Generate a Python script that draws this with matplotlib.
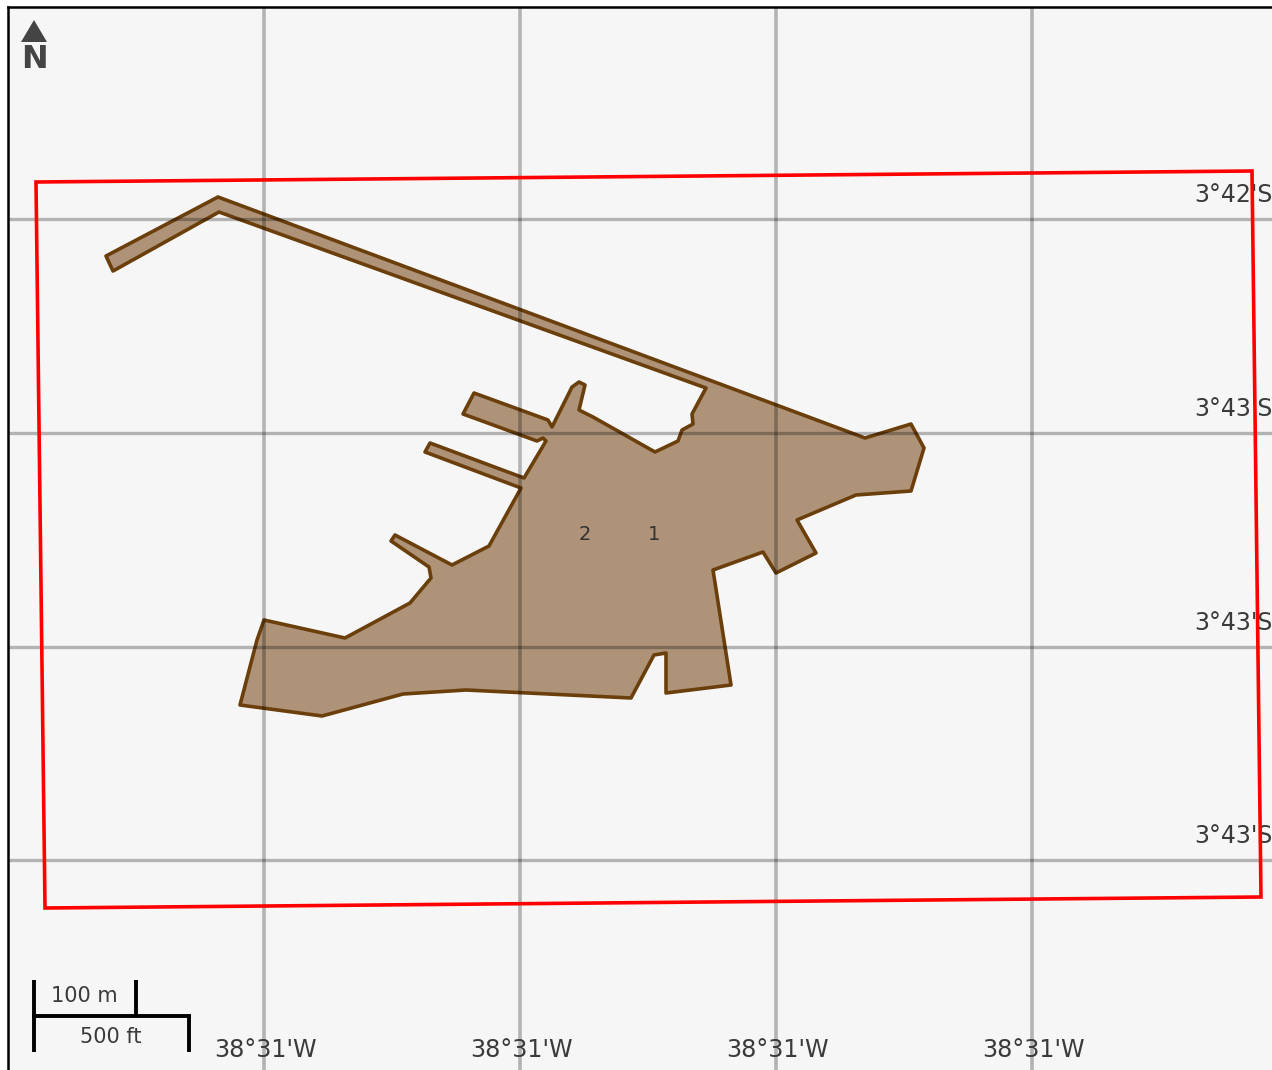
import matplotlib
matplotlib.use('Agg')
import matplotlib.pyplot as plt
from matplotlib.patches import Polygon

# map features, in picture units (x right, y down)
site_x = [106, 218, 865, 911, 924, 911, 856, 797, 816, 776, 763, 713, 731, 666, 666, 654, 631,
          466, 403, 322, 240, 257, 264, 345, 410, 431, 429, 391, 395, 452, 489, 521, 425, 430,
          524, 546, 543, 537, 463, 474, 548, 552, 572, 579, 585, 579, 593, 655, 678, 682, 693,
          692, 706, 219, 113]
site_y = [256, 197, 438, 424, 448, 491, 495, 520, 553, 573, 552, 570, 685, 693, 653, 655, 698,
          690, 694, 716, 705, 640, 620, 638, 603, 578, 567, 541, 535, 565, 546, 488, 452, 443,
          478, 441, 438, 441, 414, 393, 420, 427, 387, 382, 385, 410, 417, 452, 441, 430, 424,
          414, 388, 212, 271]
box_x = [36, 1252, 1261, 45]
box_y = [182, 171, 897, 908]

grid_x = [264, 520, 776, 1032]
grid_y = [219, 433, 647, 860]
lon_labels = ["38°31'W", "38°31'W", "38°31'W", "38°31'W"]
lat_labels = ["3°42'S", "3°43'S", "3°43'S", "3°43'S"]

point_x = [654, 585]
point_y = [535, 535]
point_labels = ['1', '2']

fig = plt.figure(figsize=(12.72, 10.70), dpi=100, facecolor='white')
ax = fig.add_axes([8 / 1272, 0, 1264 / 1272, 1063 / 1070], facecolor='#f6f6f6')
ax.set_xlim(8, 1272)
ax.set_ylim(1070, 7)
ax.set_xticks([])
ax.set_yticks([])
for side in ['right', 'bottom']:
    ax.spines[side].set_visible(False)
for side in ['left', 'top']:
    ax.spines[side].set_linewidth(1.8)

ax.add_patch(Polygon(list(zip(site_x, site_y)), closed=True, facecolor='#ae9378',
                     edgecolor='#6b3f0c', linewidth=2.6, joinstyle='round', zorder=2))

# grid sits over the polygon, it shows through
for x in grid_x:
    ax.axvline(x, color='black', alpha=0.27, lw=2.6, zorder=3)
for y in grid_y:
    ax.axhline(y, color='black', alpha=0.27, lw=2.4, zorder=3)

for x, s in zip(grid_x, lon_labels):
    ax.text(x + 1, 1050, s, ha='center', va='center', fontsize=17.2, color='#3a3a3a', zorder=4)
for y, s in zip(grid_y, lat_labels):
    ax.text(1273, y - 24, s, ha='right', va='center', fontsize=17, color='#3a3a3a', zorder=4)

for x, y, s in zip(point_x, point_y, point_labels):
    ax.text(x, y, s, ha='center', va='center', fontsize=14, color='#333333', zorder=4)

ax.add_patch(Polygon(list(zip(box_x, box_y)), closed=True, fill=False, edgecolor='#ff0000',
                     linewidth=2.6, zorder=5))

# north arrow
ax.add_patch(Polygon([(21, 42), (47, 42), (34, 20)], closed=True, color='#444444', lw=0, zorder=6))
ax.text(34, 60, 'N', ha='center', va='center', fontsize=23, fontweight='bold', color='#444444', zorder=6)

# scale bar
ax.plot([33.5, 33.5], [980, 1052], color='black', lw=2.8, zorder=6, solid_capstyle='butt')
ax.plot([136, 136], [980, 1016], color='black', lw=2.8, zorder=6, solid_capstyle='butt')
ax.plot([189, 189], [1016, 1052], color='black', lw=2.8, zorder=6, solid_capstyle='butt')
ax.plot([32, 191], [1016, 1016], color='black', lw=2.8, zorder=6, solid_capstyle='butt')
ax.text(84.5, 996, '100 m', ha='center', va='center', fontsize=15, color='#3a3a3a', zorder=6)
ax.text(110.5, 1037, '500 ft', ha='center', va='center', fontsize=15, color='#3a3a3a', zorder=6)

fig.savefig('out.png', dpi=100)
